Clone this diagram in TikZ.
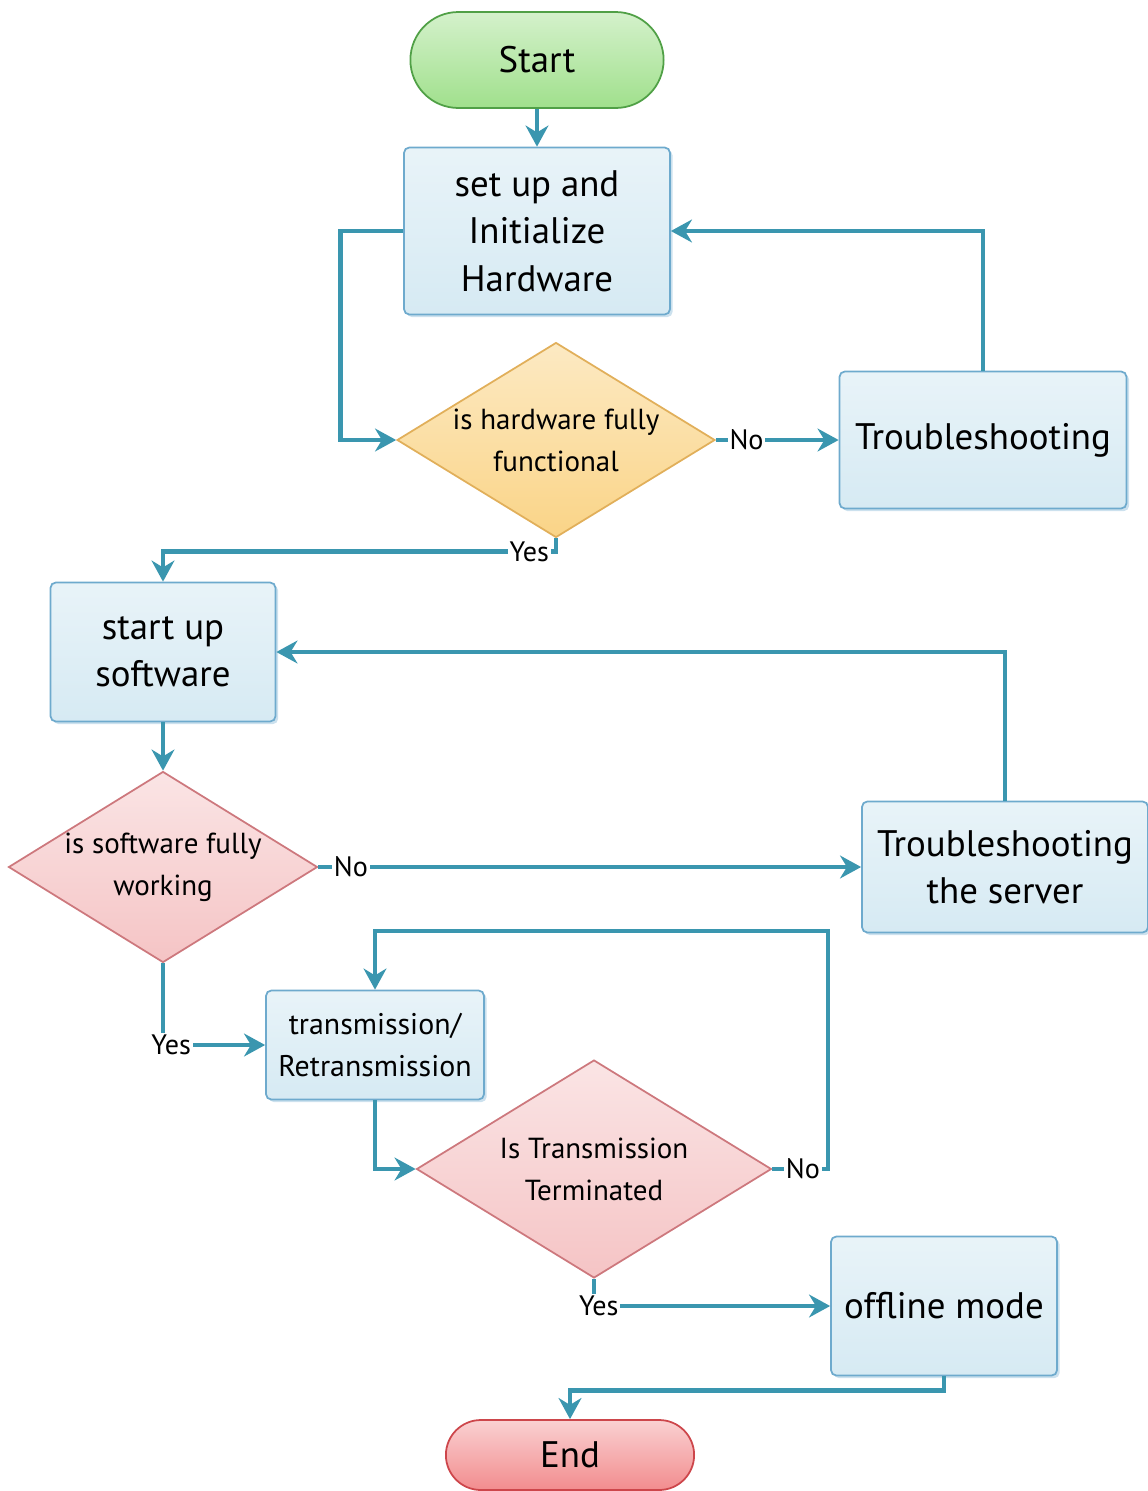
\documentclass[tikz,border=0pt]{standalone}
\usepackage{fontspec}
\setmainfont{PT Sans}
\usetikzlibrary{arrows.meta,shapes.geometric,shapes.misc,shadows}

\definecolor{flow}{RGB}{58,150,175}
\definecolor{boxfill}{RGB}{214,234,243}
\definecolor{boxline}{RGB}{110,170,205}
\definecolor{startfill}{RGB}{160,224,140}
\definecolor{startline}{RGB}{80,160,70}
\definecolor{hwfill}{RGB}{250,212,135}
\definecolor{hwline}{RGB}{225,175,90}
\definecolor{swfill}{RGB}{245,196,197}
\definecolor{swline}{RGB}{205,120,125}
\definecolor{endfill}{RGB}{242,140,142}
\definecolor{endline}{RGB}{205,70,75}

\begin{document}
\begin{tikzpicture}[x=0.02cm, y=-0.02cm, >={Stealth[length=12pt,width=13pt]}]

        \tikzset{fontscale/.style 2 args = {font={\fontsize{#1pt}{#2pt}\selectfont}}}
        \tikzstyle{terminal}=[rounded rectangle, line width=1pt, minimum width=5.2cm, fontscale={21}{27}]
        \tikzstyle{process}=[rectangle, rounded corners=3pt, draw=boxline, line width=1pt,
            top color=boxfill!55!white, bottom color=boxfill, align=center, fontscale={21}{27},
            drop shadow={shadow xshift=1.5pt, shadow yshift=-1.5pt, opacity=0.35, fill=boxline}]
        \tikzstyle{decision}=[diamond, line width=1pt, inner sep=0pt]
        \tikzstyle{decision text}=[align=center, fontscale={16.5}{24}]
        \tikzstyle{link}=[->, draw=flow, line width=2.7pt]
        \tikzstyle{answer}=[fill=white, inner sep=1pt, fontscale={16}{16}]

        \useasboundingbox (0,0) rectangle (1148,1491);

        % Draw the upper part: start, hardware and its check
            \node[terminal, draw=startline, top color=startfill!45!white, bottom color=startfill,
                minimum width=5.3cm, minimum height=1.92cm] (start) at (537,60) {Start};
            \node[process, minimum width=5.32cm, minimum height=3.34cm] (hw) at (537,231)
                {set up and\\Initialize\\Hardware};
            \node[decision, draw=hwline, top color=hwfill!50!white, bottom color=hwfill,
                minimum width=6.36cm, minimum height=3.9cm,
                label={[decision text]center:is hardware fully\\functional}] (d1) at (556,440) {};
            \node[process, minimum width=5.74cm, minimum height=2.74cm] (ts1) at (983,440) {Troubleshooting};

        % Draw the software part
            \node[process, minimum width=4.5cm, minimum height=2.78cm] (su) at (163,652) {start up\\software};
            \node[decision, draw=swline, top color=swfill!45!white, bottom color=swfill,
                minimum width=6.18cm, minimum height=3.82cm,
                label={[decision text]center:is software fully\\working}] (d2) at (163,867) {};
            \node[process, minimum width=5.72cm, minimum height=2.62cm] (ts2) at (1005,867)
                {Troubleshooting\\the server};

        % Draw the transmission part and the end
            \node[process, minimum width=4.36cm, minimum height=2.18cm, fontscale={17}{24}] (tr) at (375,1045)
                {transmission/\\Retransmission};
            \node[decision, draw=swline, top color=swfill!45!white, bottom color=swfill,
                minimum width=7.1cm, minimum height=4.36cm,
                label={[decision text]center:Is Transmission\\Terminated}] (d3) at (594,1169) {};
            \node[process, minimum width=4.52cm, minimum height=2.78cm] (off) at (944,1306) {offline mode};
            \node[terminal, draw=endline, top color=endfill!40!white, bottom color=endfill,
                minimum height=1.4cm] (end) at (570,1455) {End};
            \coordinate (back) at (828,931);

        % Connect the boxes
            \draw[link] (start.south) -- (hw.north);
            \draw[link] (hw.west) -- ++(-63,0) |- (d1.west);
            \draw[link] (d1.east) -- node[answer, pos=0.25] {No} (ts1.west);
            \draw[link] (ts1.north) |- (hw.east);
            \draw[link] (d1.south) -- ++(0,13) -| node[answer, pos=0.034] {Yes} (su.north);
            \draw[link] (su.south) -- (d2.north);
            \draw[link] (d2.east) -- node[answer, pos=0.06] {No} (ts2.west);
            \draw[link] (ts2.north) |- (su.east);
            \draw[link] (d2.south) |- node[answer, pos=0.54] {Yes} (tr.west);
            \draw[link] (tr.south) |- (d3.west);
            \draw[link] (d3.east) -- node[answer, pos=0.55] {No} (d3.east -| back) -- (back) -| (tr.north);
            \draw[link] (d3.south) |- node[answer, pos=0.51] {Yes} (off.west);
            \draw[link] (off.south) -- ++(0,14) -| (end.north);

\end{tikzpicture}
\end{document}
